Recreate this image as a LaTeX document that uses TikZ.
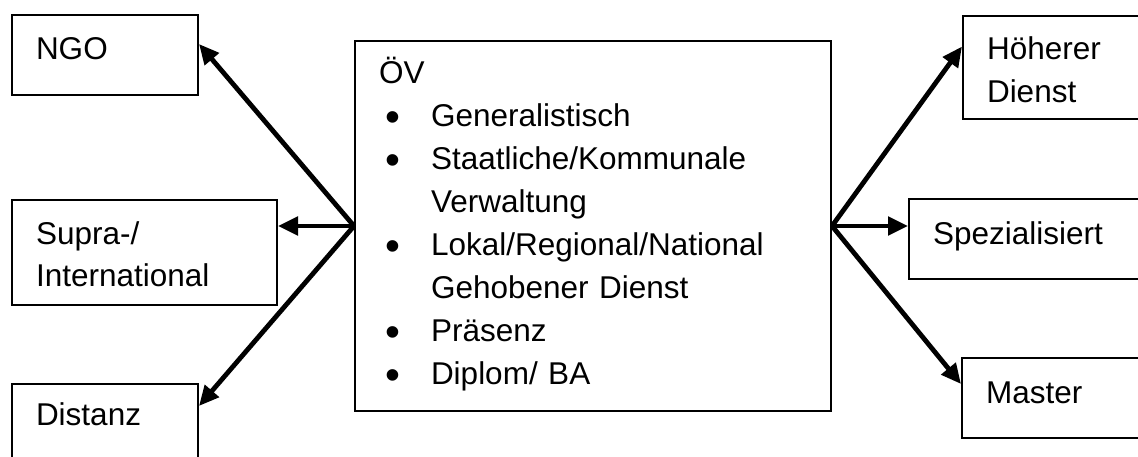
\documentclass[tikz,border=0pt]{standalone}
\usepackage{fontspec}
\usepackage{graphicx}
\setmainfont{Liberation Sans}
\usetikzlibrary{arrows.meta}

\newcommand{\bul}[1]{\makebox[28pt]{\raisebox{-5pt}{\scalebox{1.35}{\textbullet}}}\hspace{24pt}#1}
\newcommand{\cont}[1]{\hspace*{52pt}#1}

\begin{document}
\begin{tikzpicture}[x=1pt,y=-1pt,>={Triangle[length=20pt,width=18pt]}]
  \tikzstyle{box}=[draw,line width=2pt,anchor=north west,inner xsep=24pt,inner ysep=0pt,align=left,font=\fontsize{31.5}{43}\selectfont]
  \tikzstyle{link}=[->,line width=4.8pt]
  \useasboundingbox (0,0) rectangle (1138,457);
  \clip (0,0) rectangle (1138,457);

  % left side
  \node[box,text width=138pt,text height=45pt,text depth=35pt] (B_0) at (11,14) {NGO};
  \node[box,text width=217pt,text height=44pt,text depth=61pt] (B_1) at (11,199) {Supra-/\\International};
  \node[box,text width=138pt,text height=41pt,text depth=39pt] (B_2) at (11,383) {Distanz};

  % middle
  \node[box,text width=428pt,text height=43pt,text depth=327pt] (B_3) at (354,40)
    {ÖV\\
     \bul{Generalistisch}\\
     \bul{Staatliche/Kommunale}\\
     \cont{Verwaltung}\\
     \bul{Lokal/Regional/National}\\
     \cont{Gehobener Dienst}\\
     \bul{Präsenz}\\
     \bul{Diplom/ BA}};

  % right side
  \node[box,text width=138pt,text height=44pt,text depth=59pt] (B_4) at (962,15) {Höherer\\Dienst};
  \node[box,text width=217pt,text height=45pt,text depth=35pt] (B_5) at (908,198) {Spezialisiert};
  \node[box,text width=138pt,text height=45pt,text depth=35pt] (B_6) at (961,357) {Master};

  \draw[link] (B_3.west) -- ([yshift=11pt]B_0.east);
  \draw[link] (B_3.west) -- (B_1.east |- B_3.west);
  \draw[link] (B_3.west) -- ([yshift=18pt]B_2.east);

  \draw[link] (B_3.east) -- ([yshift=21pt]B_4.west);
  \draw[link] (B_3.east) -- (B_5.west |- B_3.east);
  \draw[link] (B_3.east) -- ([yshift=14pt]B_6.west);
\end{tikzpicture}
\end{document}
